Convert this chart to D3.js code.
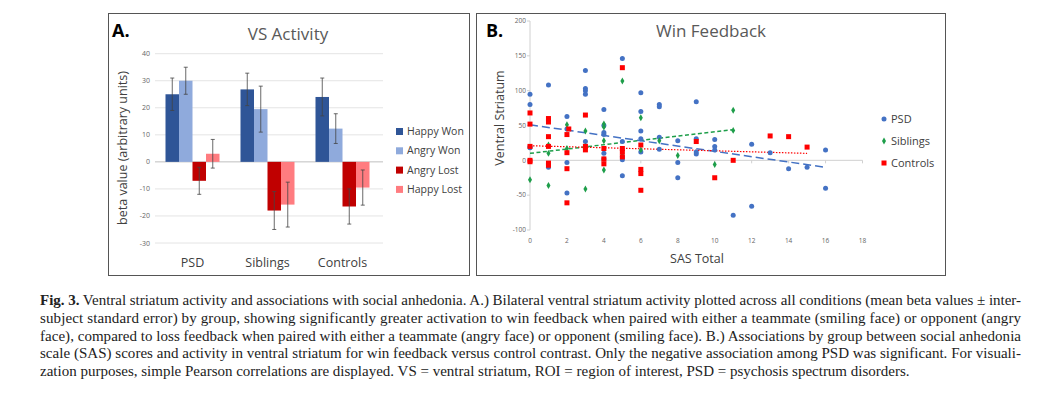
<!DOCTYPE html>
<html>
<head>
<meta charset="utf-8">
<script src="https://cdn.jsdelivr.net/npm/d3@7"></script>
<style>
  body { margin: 0; background: #fff; }
  svg text { font-family: "Open Sans", "Noto Sans", sans-serif; }
  .cap { font-family: "Liberation Serif", "DejaVu Serif", serif !important; font-size: 15px; fill: #222; }
</style>
</head>
<body>
<svg id="fig" width="1048" height="401"></svg>
<script>
// ---- panel A data ----
var groups = ["PSD", "Siblings", "Controls"];
var conditions = ["Happy Won", "Angry Won", "Angry Lost", "Happy Lost"];
var condColors = ["#2F5597", "#8FAADC", "#C00000", "#FF7C80"];
var psdVals = [25, 30, -7, 3];
var sibVals = [26.8, 19.5, -18, -15.8];
var ctrlVals = [24, 12.3, -16.5, -9.5];
var psdErr = [6, 5, 5, 5.3];
var sibErr = [6, 8.5, 7, 8.3];
var ctrlErr = [7, 5.5, 6.5, 6.5];
var yTicksA = [-30, -20, -10, 0, 10, 20, 30, 40];

// ---- panel B data ----
var psdX = [0,0,0,0,1,1,1,2,2,2,2,3,3,3,3,3,3,4,4,4,4,4,4,5,5,5,5,5,6,6,6,6,6,7,7,7,7,8,8,8,9,9,9,9,10,10,10,11,12,12,13,14,15,16,16];
var psdY = [95,80,20,18,108,-10,-5,63,-3,-47,45,129,103,100,95,27,20,73,50,40,37,10,2,146,27,5,1,-22,97,70,42,31,12,80,77,33,16,28,-3,-25,84,31,12,9,30,20,15,-79,23,-66,11,-12,-10,15,-40];
var sibX = [0,1,1,1,2,2,3,3,3,4,4,4,4,5,5,6,6,7,8,10,11,11];
var sibY = [-28,22,10,-36,51,17,42,20,-41,52,48,28,-14,114,10,61,15,28,7,-6,72,43];
var ctlX = [0,0,0,0,0,1,1,1,1,1,1,2,2,2,2,2.1,3,3,3,4,4,4,5,5,5,5,6,6,6,6,9,10,11,13,14,15];
var ctlY = [68,52,20,0,-2,60,55,34,20,-4,-7,37,11,-12,-61,45,65,20,15,17,2,-5,133,17,12,5,22,-13,-19,-43,27,-25,0,35,34,19];
var psdTrend = [[0, 51], [16, -10]];
var sibTrend = [[0, 10], [11, 44]];
var ctlTrend = [[0, 21], [15, 10]];
var xTicksB = d3.range(0, 19, 2);
var yTicksB = [-100, -50, 0, 50, 100, 150, 200];

var svg = d3.select("#fig");

// frames
svg.append("rect").attr("x", 108.5).attr("y", 13.5).attr("width", 361).attr("height", 262)
  .attr("fill", "none").attr("stroke", "#555");
svg.append("rect").attr("x", 476.5).attr("y", 13.5).attr("width", 469).attr("height", 262)
  .attr("fill", "none").attr("stroke", "#555");

// ================= Panel A =================
var gA = svg.append("g");
var yA = d3.scaleLinear().domain([-30, 40]).range([243, 53.7]);
var xA = d3.scaleBand().domain(groups).range([155, 380]).paddingInner(0.28).paddingOuter(0.14);
var xSub = d3.scaleBand().domain(conditions).range([0, xA.bandwidth()]);

gA.selectAll(".grid").data(yTicksA).join("line")
  .attr("x1", 155).attr("x2", 383).attr("y1", d => yA(d)).attr("y2", d => yA(d))
  .attr("stroke", d => d === 0 ? "#bfbfbf" : "#e4e4e4");
gA.selectAll(".ytl").data(yTicksA).join("text")
  .attr("x", 150).attr("y", d => yA(d) + 2.5).attr("text-anchor", "end")
  .attr("font-size", 7).attr("fill", "#666").text(d => d);

var allVals = [psdVals, sibVals, ctrlVals];
var allErr = [psdErr, sibErr, ctrlErr];
groups.forEach(function (g, gi) {
  conditions.forEach(function (c, ci) {
    var v = allVals[gi][ci], e = allErr[gi][ci];
    var x0 = xA(g) + xSub(c);
    gA.append("rect").attr("x", x0).attr("width", xSub.bandwidth())
      .attr("y", yA(Math.max(0, v))).attr("height", Math.abs(yA(v) - yA(0)))
      .attr("fill", condColors[ci]);
    var cx = x0 + xSub.bandwidth() / 2;
    gA.append("line").attr("x1", cx).attr("x2", cx).attr("y1", yA(v - e)).attr("y2", yA(v + e))
      .attr("stroke", "#444").attr("stroke-width", 0.8);
    [v - e, v + e].forEach(function (t) {
      gA.append("line").attr("x1", cx - 2).attr("x2", cx + 2).attr("y1", yA(t)).attr("y2", yA(t))
        .attr("stroke", "#444").attr("stroke-width", 0.8);
    });
  });
  gA.append("text").attr("x", xA(g) + xA.bandwidth() / 2).attr("y", 267)
    .attr("text-anchor", "middle").attr("font-size", 12.5).attr("fill", "#404040").text(g);
});

conditions.forEach(function (c, ci) {
  var y = 132 + ci * 19.3;
  gA.append("rect").attr("x", 396).attr("y", y - 4).attr("width", 7).attr("height", 7).attr("fill", condColors[ci]);
  gA.append("text").attr("x", 407).attr("y", y + 3).attr("font-size", 10.5).attr("fill", "#404040").text(c);
});

gA.append("text").attr("x", 288).attr("y", 40).attr("text-anchor", "middle")
  .attr("font-size", 17).attr("fill", "#595959").text("VS Activity");
gA.append("text").attr("x", 112).attr("y", 37).attr("font-size", 18).attr("font-weight", "bold")
  .attr("fill", "#000").text("A.");
gA.append("text").attr("transform", "translate(127,148) rotate(-90)").attr("text-anchor", "middle")
  .attr("font-size", 12.5).attr("fill", "#404040").text("beta value (arbitrary units)");

// ================= Panel B =================
var gB = svg.append("g");
var xB = d3.scaleLinear().domain([0, 18]).range([530, 862.5]);
var yB = d3.scaleLinear().domain([-100, 200]).range([230, 21]);

gB.append("line").attr("x1", xB(0)).attr("x2", xB(18)).attr("y1", yB(0)).attr("y2", yB(0)).attr("stroke", "#d0d0d0");
gB.append("line").attr("x1", xB(0)).attr("x2", xB(0)).attr("y1", yB(-100)).attr("y2", yB(200)).attr("stroke", "#d0d0d0");
gB.selectAll(".xt").data(xTicksB).join("line")
  .attr("x1", d => xB(d)).attr("x2", d => xB(d)).attr("y1", yB(0)).attr("y2", yB(0) + 3).attr("stroke", "#d0d0d0");
gB.selectAll(".yt").data(yTicksB).join("line")
  .attr("x1", xB(0) - 3).attr("x2", xB(0)).attr("y1", d => yB(d)).attr("y2", d => yB(d)).attr("stroke", "#d0d0d0");
gB.selectAll(".xtl").data(xTicksB).join("text")
  .attr("x", d => xB(d)).attr("y", 243).attr("text-anchor", "middle")
  .attr("font-size", 6.5).attr("fill", "#666").text(d => d);
gB.selectAll(".ytl").data(yTicksB).join("text")
  .attr("x", 526).attr("y", d => yB(d) + 2.3).attr("text-anchor", "end")
  .attr("font-size", 6.5).attr("fill", "#666").text(d => d);

var blue = "#4472C4", green = "#1E9E4A", red = "#FF0000";
var line = d3.line().x(d => xB(d[0])).y(d => yB(d[1]));
gB.append("path").attr("d", line(psdTrend)).attr("stroke", blue).attr("stroke-width", 1.5)
  .attr("stroke-dasharray", "8,4").attr("fill", "none");
gB.append("path").attr("d", line(sibTrend)).attr("stroke", green).attr("stroke-width", 1.5)
  .attr("stroke-dasharray", "4,2.5").attr("fill", "none");
gB.append("path").attr("d", line(ctlTrend)).attr("stroke", red).attr("stroke-width", 1.2)
  .attr("stroke-dasharray", "1.5,1.5").attr("fill", "none");

gB.selectAll(".pp").data(psdX).join("circle")
  .attr("cx", d => xB(d)).attr("cy", (d, i) => yB(psdY[i])).attr("r", 2.5).attr("fill", blue);
gB.selectAll(".sp").data(sibX).join("path")
  .attr("d", d3.symbol(d3.symbolDiamond, 14))
  .attr("transform", (d, i) => "translate(" + xB(d) + "," + yB(sibY[i]) + ")").attr("fill", green);
gB.selectAll(".cp").data(ctlX).join("rect")
  .attr("x", d => xB(d) - 2.5).attr("y", (d, i) => yB(ctlY[i]) - 2.5)
  .attr("width", 5).attr("height", 5).attr("fill", red);

var legB = [["PSD", "c", blue], ["Siblings", "d", green], ["Controls", "s", red]];
legB.forEach(function (l, i) {
  var y = 119 + i * 22;
  var g = gB.append("g").attr("transform", "translate(884," + y + ")");
  if (l[1] === "c") g.append("circle").attr("r", 2.5).attr("fill", l[2]);
  else if (l[1] === "d") g.append("path").attr("d", d3.symbol(d3.symbolDiamond, 14)).attr("fill", l[2]);
  else g.append("rect").attr("x", -2.5).attr("y", -2.5).attr("width", 5).attr("height", 5).attr("fill", l[2]);
  gB.append("text").attr("x", 891).attr("y", y + 4).attr("font-size", 11).attr("fill", "#404040").text(l[0]);
});

gB.append("text").attr("x", 711).attr("y", 37).attr("text-anchor", "middle")
  .attr("font-size", 17).attr("fill", "#595959").text("Win Feedback");
gB.append("text").attr("x", 486).attr("y", 37).attr("font-size", 18).attr("font-weight", "bold")
  .attr("fill", "#000").text("B.");
gB.append("text").attr("transform", "translate(504,118) rotate(-90)").attr("text-anchor", "middle")
  .attr("font-size", 12.5).attr("fill", "#404040").text("Ventral Striatum");
gB.append("text").attr("x", 697).attr("y", 263).attr("text-anchor", "middle")
  .attr("font-size", 12.5).attr("fill", "#404040").text("SAS Total");

// ================= Caption =================
var capLines = [
  " Ventral striatum activity and associations with social anhedonia. A.) Bilateral ventral striatum activity plotted across all conditions (mean beta values \u00b1 inter-",
  "subject standard error) by group, showing significantly greater activation to win feedback when paired with either a teammate (smiling face) or opponent (angry",
  "face), compared to loss feedback when paired with either a teammate (angry face) or opponent (smiling face). B.) Associations by group between social anhedonia",
  "scale (SAS) scores and activity in ventral striatum for win feedback versus control contrast. Only the negative association among PSD was significant. For visuali-",
  "zation purposes, simple Pearson correlations are displayed. VS = ventral striatum, ROI = region of interest, PSD = psychosis spectrum disorders."
];
capLines.forEach(function (t, i) {
  var tx = svg.append("text").attr("class", "cap").attr("x", 40).attr("y", 305 + i * 17.8);
  if (i < 4) tx.attr("textLength", 981).attr("lengthAdjust", "spacing");
  if (i === 0) tx.append("tspan").attr("font-weight", "bold").text("Fig. 3.");
  tx.append("tspan").text(t);
});
</script>
</body>
</html>
